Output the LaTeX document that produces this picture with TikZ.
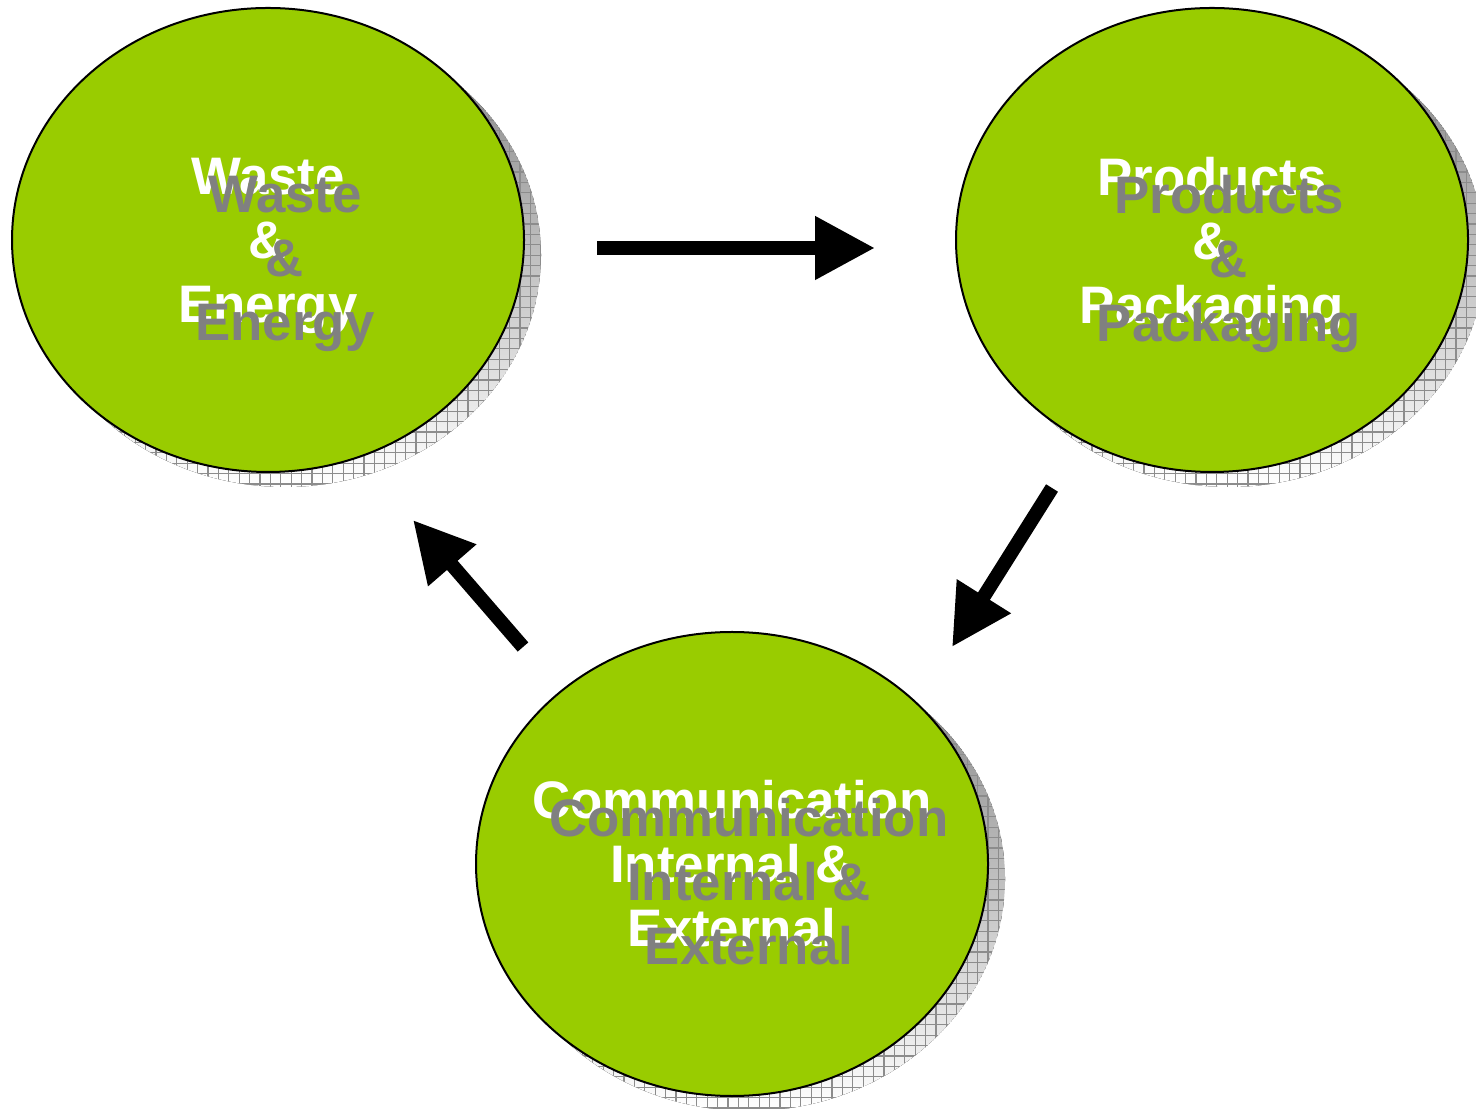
\documentclass[tikz,border=0pt]{standalone}
\usepackage{fontspec}
\setmainfont{Liberation Sans}
\usetikzlibrary{shapes.geometric,arrows.meta}
\definecolor{leaf}{HTML}{99CC00}
\definecolor{shade}{HTML}{C0C0C0}
\definecolor{shadeline}{HTML}{8C8C8C}
\definecolor{echo}{HTML}{808080}
\tikzset{
  topic/.style={ellipse,draw=black,line width=1pt,fill=leaf,
    minimum width=256pt,minimum height=232pt,inner sep=0pt},
  caption/.style={align=center,text=white,
    font=\fontsize{26.4}{32}\selectfont\bfseries},
  captionecho/.style={caption,text=echo,xshift=8.5pt,yshift=-9pt},
  flow/.style={line width=7pt,-{Triangle[length=30pt,width=30pt]}}
}
\newcommand\shadowat[1]{%
  \begin{scope}
    \clip ([shift={(17,-15)}]#1) ellipse (128pt and 116pt);
    \fill[shade] ([shift={(17,-15)}]#1) ellipse (128pt and 116pt);
    \draw[shadeline,line width=0.6pt,step=10.4] ([shift={(-300,-300)}]#1) grid ([shift={(300,300)}]#1);
  \end{scope}}
\begin{document}
\begin{tikzpicture}[x=0.5pt,y=0.5pt]
    \useasboundingbox (0,0) rectangle (1476,1108);
    \coordinate (w) at (268,868);
    \coordinate (p) at (1212,868);
    \coordinate (c) at (732,244);
    \shadowat{w} \shadowat{p} \shadowat{c}
    \node[topic] (waste) at (w) {};
    \node[topic] (products) at (p) {};
    \node[topic] (comm) at (c) {};
    \node[caption] (waste-text) at ([yshift=-3pt]w) {Waste\\\&\\Energy};
    \node[captionecho] (waste-echo) at ([yshift=-3pt]w) {Waste\\\&\\Energy};
    \node[caption] (products-text) at ([yshift=-3pt]p) {Products\\\&\\Packaging};
    \node[captionecho] (products-echo) at ([yshift=-3pt]p) {Products\\\&\\Packaging};
    \node[caption] (comm-text) at (c) {Communication\\Internal \&\\External};
    \node[captionecho] (comm-echo) at (c) {Communication\\Internal \&\\External};
    \coordinate (pc-tail) at (1052,620); \coordinate (pc-tip) at (952,461);
    \coordinate (cw-tail) at (523,461);  \coordinate (cw-tip) at (413,588);
    \draw[flow,shorten <=36pt,shorten >=40pt]
          ([yshift=-4pt]waste.east) -- ([yshift=-4pt]products.west);
    \draw[flow] (pc-tail) -- (pc-tip);
    \draw[flow] (cw-tail) -- (cw-tip);
\end{tikzpicture}
\end{document}
